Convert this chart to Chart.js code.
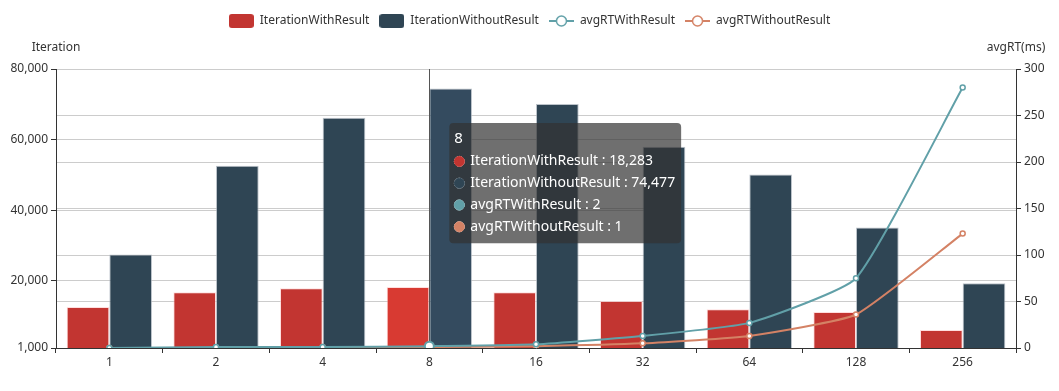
<!DOCTYPE html>
<html>
<head>
<meta charset="utf-8">
<script src="https://cdn.jsdelivr.net/npm/chart.js@4.4.1/dist/chart.umd.min.js"></script>
<style>
  body { margin: 0; background: #fff; }
  #wrap { width: 1059px; height: 391px; }
</style>
</head>
<body>
<div id="wrap"><canvas id="chart" width="1059" height="391"></canvas></div>
<script>
// data
const categories = ['1', '2', '4', '8', '16', '32', '64', '128', '256']
const iterWithResult = [12600, 16800, 17900, 18283, 16800, 14300, 12000, 11200, 6100]
const iterWithoutResult = [27500, 52600, 66200, 74477, 70100, 58000, 50100, 35100, 19300]
const rtWithResult = [0, 1, 1, 2, 4, 13, 27, 75, 280]
const rtWithoutResult = [0, 0, 1, 1, 2, 5, 13, 36, 123]
const iterTicks = [1000, 20000, 40000, 60000, 80000]
const hoverIndex = 3

const FONT = '"Noto Sans", sans-serif'
const colors = ['#c23531', '#2f4554', '#61a0a8', '#d48265']
const hoverColors = ['#d83a32', '#344b5f']

//legend icons: rounded box for bars, line with hollow circle for lines
function legendIcon(color, isBar) {
    const c = document.createElement('canvas')
    c.width = 25
    c.height = 14
    const g = c.getContext('2d')
    if (isBar) {
        g.fillStyle = color
        g.beginPath()
        g.roundRect(0, 0, 25, 14, 3)
        g.fill()
    } else {
        g.strokeStyle = color
        g.lineWidth = 2
        g.beginPath()
        g.moveTo(0, 7)
        g.lineTo(25, 7)
        g.stroke()
        g.fillStyle = '#fff'
        g.lineWidth = 1.5
        g.beginPath()
        g.arc(12.5, 7, 5, 0, Math.PI * 2)
        g.fill()
        g.stroke()
    }
    return c
}

// room between legend and plot + axis names + pointer line
const extras = {
    id: 'extras',
    afterInit(chart) {
        const fit = chart.legend.fit
        chart.legend.fit = function () {
            fit.call(this)
            this.height += 32
        }
    },
    beforeDatasetsDraw(chart) {
        const ctx = chart.ctx
        const { top, left, right } = chart.chartArea
        ctx.save()
        ctx.font = '12px ' + FONT
        ctx.fillStyle = '#333'
        ctx.textAlign = 'center'
        ctx.textBaseline = 'middle'
        ctx.fillText('Iteration', left, top - 21)
        ctx.fillText('avgRT(ms)', right, top - 21)
        ctx.restore()
    },
    afterDatasetDraw(chart, args) {
        if (args.index !== 0) return
        const ctx = chart.ctx
        const x = Math.round(chart.scales.x.getPixelForValue(hoverIndex)) + 0.5
        ctx.save()
        ctx.strokeStyle = '#555'
        ctx.lineWidth = 1
        ctx.beginPath()
        ctx.moveTo(x, chart.chartArea.top)
        ctx.lineTo(x, chart.chartArea.bottom)
        ctx.stroke()
        ctx.restore()
    }
}

Chart.Tooltip.positioners.besidePointer = function (items) {
    if (!items.length) return false
    const x = this.chart.scales.x.getPixelForValue(items[0].index)
    return { x: x + 24, y: 123, xAlign: 'left', yAlign: 'top' }
}

const barCommon = {
    type: 'bar',
    yAxisID: 'y',
    order: 2,
    barPercentage: 1,
    categoryPercentage: 0.8,
    borderWidth: 1,
    borderSkipped: 'bottom'
}
const lineCommon = {
    type: 'line',
    yAxisID: 'y1',
    order: 1,
    borderWidth: 2,
    tension: 0.15,
    pointRadius: 2.5,
    pointBorderWidth: 1.5,
    pointBackgroundColor: '#fff',
    pointHoverRadius: 4.5,
    pointHoverBorderWidth: 2,
    pointHoverBackgroundColor: '#fff'
}

const ctx = document.getElementById('chart').getContext('2d')
const chart = new Chart(ctx, {
    data: {
        labels: categories,
        datasets: [
            Object.assign({}, barCommon, {
                label: 'IterationWithResult', data: iterWithResult,
                backgroundColor: colors[0], borderColor: 'rgba(255,200,200,0.6)',
                hoverBackgroundColor: hoverColors[0], hoverBorderColor: 'rgba(255,200,200,0.6)'
            }),
            Object.assign({}, barCommon, {
                label: 'IterationWithoutResult', data: iterWithoutResult,
                backgroundColor: colors[1], borderColor: 'rgba(160,170,180,0.7)',
                hoverBackgroundColor: hoverColors[1], hoverBorderColor: 'rgba(160,170,180,0.7)'
            }),
            Object.assign({}, lineCommon, {
                label: 'avgRTWithResult', data: rtWithResult,
                borderColor: colors[2], pointBorderColor: colors[2], pointHoverBorderColor: colors[2]
            }),
            Object.assign({}, lineCommon, {
                label: 'avgRTWithoutResult', data: rtWithoutResult,
                borderColor: colors[3], pointBorderColor: colors[3], pointHoverBorderColor: colors[3]
            })
        ]
    },
    options: {
        responsive: false,
        animation: false,
        layout: { padding: { top: 5, left: 0, right: 0, bottom: 0 } },
        interaction: { mode: 'index', intersect: false },
        scales: {
            x: {
                grid: { offset: true, drawOnChartArea: false, tickLength: 5, tickColor: '#333' },
                border: { color: '#333' },
                ticks: { color: '#333', font: { size: 12, family: FONT }, padding: 2 },
                afterFit(scale) { scale.height = 43 }
            },
            y: {
                position: 'left',
                min: 1000,
                max: 80000,
                afterBuildTicks(scale) { scale.ticks = iterTicks.map((v) => ({ value: v })) },
                grid: { color: '#ccc', tickLength: 5, tickColor: '#333' },
                border: { color: '#333' },
                ticks: {
                    color: '#333', font: { size: 12, family: FONT }, padding: 3,
                    callback: (v) => v.toLocaleString('en-US')
                },
                afterFit(scale) { scale.width = 56 }
            },
            y1: {
                position: 'right',
                min: 0,
                max: 300,
                ticks: { stepSize: 50, color: '#333', font: { size: 12, family: FONT }, padding: 3 },
                grid: { color: '#ccc', tickLength: 5, tickColor: '#333' },
                border: { color: '#333' },
                afterFit(scale) { scale.width = 43 }
            }
        },
        plugins: {
            legend: {
                position: 'top',
                labels: {
                    usePointStyle: true,
                    pointStyleWidth: 25,
                    padding: 10,
                    color: '#333',
                    font: { size: 12, family: FONT },
                    generateLabels(chart) {
                        return chart.data.datasets.map((ds, i) => ({
                            text: ds.label,
                            datasetIndex: i,
                            pointStyle: legendIcon(colors[i], ds.type === 'bar'),
                            fillStyle: colors[i],
                            strokeStyle: colors[i],
                            lineWidth: 0,
                            fontColor: '#333',
                            hidden: !chart.isDatasetVisible(i)
                        }))
                    }
                }
            },
            tooltip: {
                position: 'besidePointer',
                backgroundColor: 'rgba(50,50,50,0.7)',
                cornerRadius: 4,
                caretSize: 0,
                caretPadding: 0,
                padding: { left: 5, right: 6, top: 7, bottom: 8 },
                titleFont: { size: 15, weight: 'normal', family: FONT },
                titleColor: '#fff',
                titleMarginBottom: 5,
                bodyFont: { size: 14, family: FONT },
                bodyColor: '#fff',
                bodySpacing: 5,
                usePointStyle: true,
                boxWidth: 10,
                boxHeight: 10,
                boxPadding: 4,
                itemSort: (a, b) => a.datasetIndex - b.datasetIndex,
                callbacks: {
                    title: (items) => items[0].label,
                    label: (c) => c.dataset.label + ' : ' + c.parsed.y.toLocaleString('en-US'),
                    labelColor: (c) => ({ borderColor: colors[c.datasetIndex], backgroundColor: colors[c.datasetIndex] }),
                    labelPointStyle: () => ({ pointStyle: 'circle', rotation: 0 })
                }
            }
        }
    },
    plugins: [extras]
})

//show the hovered state for category 8
const active = [0, 1, 2, 3].map((d) => ({ datasetIndex: d, index: hoverIndex }))
chart.setActiveElements(active)
chart.tooltip.setActiveElements(active, { x: chart.scales.x.getPixelForValue(hoverIndex), y: 200 })
chart.update()
</script>
</body>
</html>
